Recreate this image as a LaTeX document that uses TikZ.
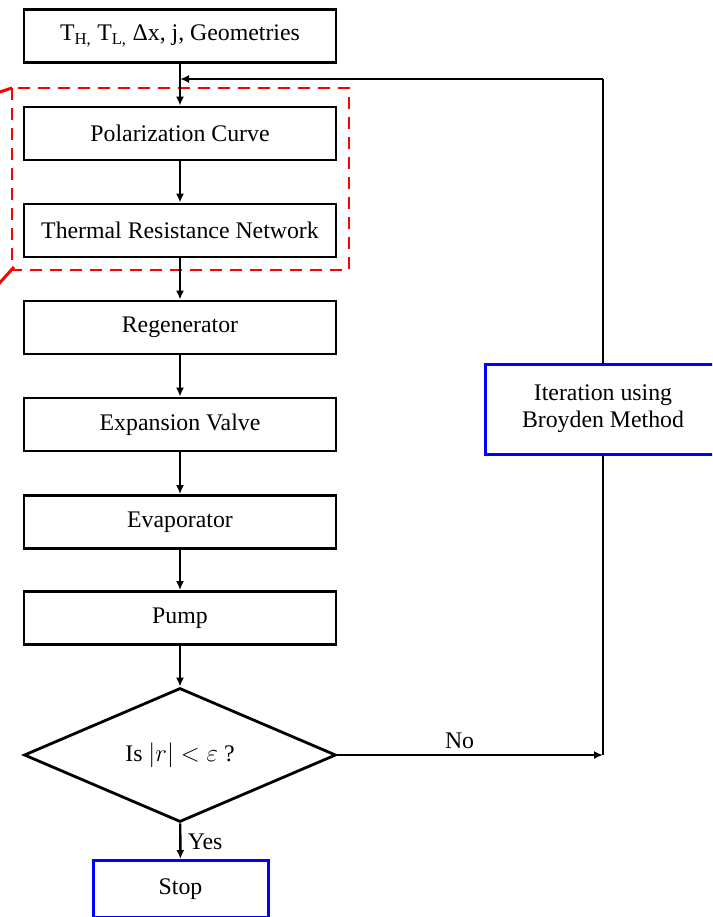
\documentclass[tikz,border=0pt]{standalone}
\usepackage{fontspec}
\setmainfont{Liberation Serif}
\usetikzlibrary{arrows.meta,shapes.geometric}
\begin{document}
\begin{tikzpicture}[x=1pt,y=-1pt,
  font=\fontsize{23.8}{27}\selectfont,
  box/.style={draw=black,line width=2.8pt,minimum width=312pt,minimum height=53pt,inner sep=0pt,align=center},
  bluebox/.style={draw=blue,line width=3pt,inner sep=0pt,align=center},
  flow/.style={line width=2.4pt,-{Latex[length=9pt,width=8pt]}},
  plain/.style={line width=2.4pt}]
\clip (0,0) rectangle (712,917);
\fill[white] (0,0) rectangle (712,917);
\node[box] (in) at (180,36) {T\textsubscript{H,} T\textsubscript{L,} Δx, j, Geometries};
\node[box] (pol) at (180,133.5) {Polarization Curve};
\node[box] (thr) at (180,230.5) {Thermal Resistance Network};
\node[box] (reg) at (180,327.5) {Regenerator};
\node[box] (exp) at (180,424.5) {Expansion Valve};
\node[box] (eva) at (180,522) {Evaporator};
\node[box] (pmp) at (180,618) {Pump};
\node[diamond,draw=black,line width=2.8pt,minimum width=312pt,minimum height=134pt,inner sep=0pt,aspect=2.33] (dec) at (180,755) {};
\node at (180,755) {Is $|r| < \varepsilon$ ?};
\node[bluebox,minimum width=175pt,minimum height=57pt] (stop) at (180.5,889) {Stop};
\node[bluebox,minimum width=236pt,minimum height=90pt] (itr) at (603,409) {Iteration using\\Broyden Method};
\coordinate (top) at (603,79);
\coordinate (join) at (180,79);
\coordinate (right) at (603,755);
% red dashed frame
\draw[red,line width=2.8pt,dash pattern=on 12pt off 8pt] (12,88) rectangle (349,270);
\draw[red,line width=3pt] (12,88) -- (-6,94);
\draw[red,line width=3pt] (14,267) -- (-4,287);
% connectors
\draw[flow] (in) -- (pol);
\draw[flow] (pol) -- (thr);
\draw[flow] (thr) -- (reg);
\draw[flow] (reg) -- (exp);
\draw[flow] (exp) -- (eva);
\draw[flow] (eva) -- (pmp);
\draw[flow] (pmp) -- (dec);
\draw[flow] (dec) -- node[right,xshift=3pt,yshift=-1pt] {Yes} (stop);
\draw[flow] (dec.east) -- node[above,pos=0.46,yshift=2pt] {No} (right);
\draw[plain] (right) -- (itr.south);
\draw[plain] (itr.north) -- (top);
\draw[flow] (top) -- (join);
\end{tikzpicture}
\end{document}
